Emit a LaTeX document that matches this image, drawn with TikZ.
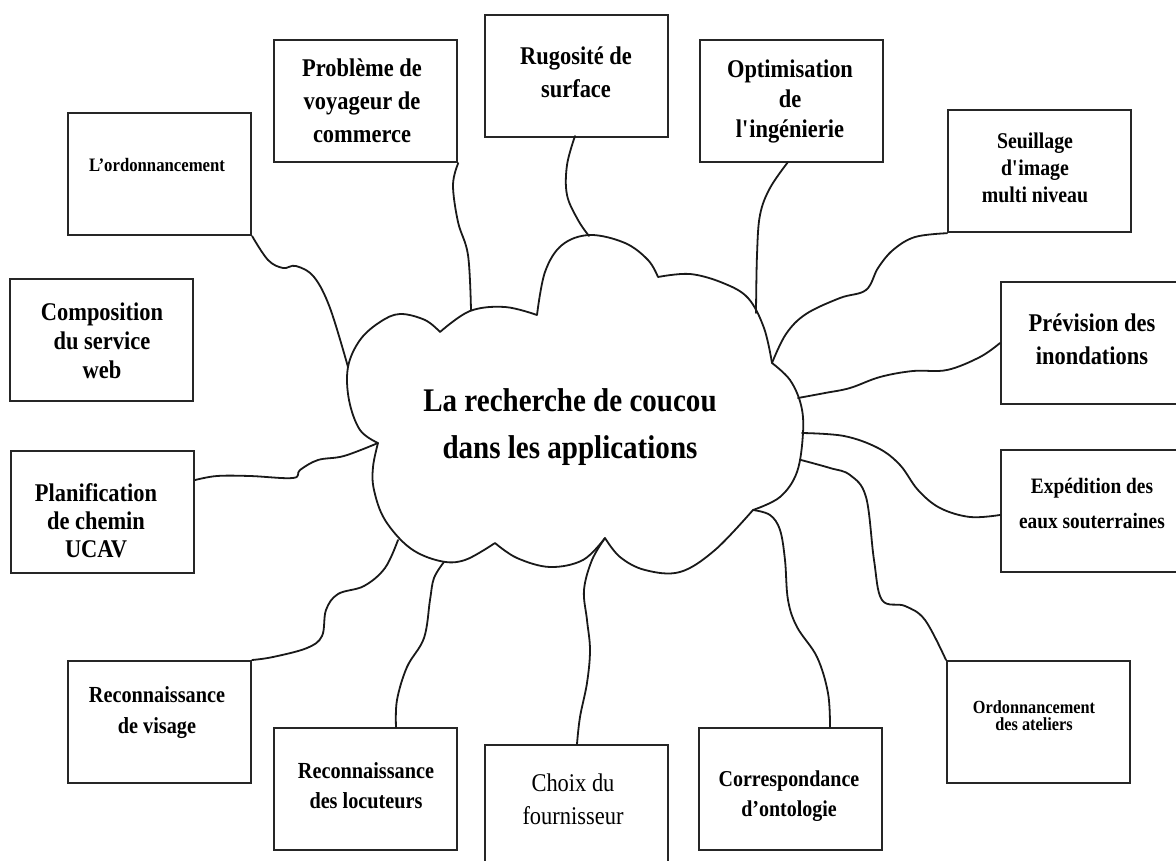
\documentclass[tikz,border=0pt]{standalone}
\usepackage{fontspec}
\setmainfont{Liberation Serif}
% slightly condensed serif used for all labels
\newfontfamily\boxfont[FakeStretch=0.88]{Liberation Serif}
\newcommand{\sq}{\textquotesingle}
\begin{document}
\begin{tikzpicture}[x=1pt,y=-1pt,
  box/.style={draw=black!85, line width=2.2pt, minimum width=183pt, minimum height=122pt,
              anchor=north west, inner sep=0pt},
  lbl/.style={align=center, inner sep=0pt},
  wire/.style={line width=1.8pt, line cap=round, line join=round, black!90},
  cloudline/.style={line width=1.8pt, line cap=round, line join=round, black!90}]

\useasboundingbox (0,0) rectangle (1176,861);
\clip (0,0) rectangle (1176,861);
\fill[white] (0,0) rectangle (1176,861);

% ---------- boxes ----------
\node[box] (prob) at (273,39)  {};
\node[box] (rug)  at (484,14)  {};
\node[box] (opt)  at (699,39)  {};
\node[box] (ordo) at (67,112)  {};
\node[box] (seu)  at (947,109) {};
\node[box] (comp) at (9,278)   {};
\node[box] (prev) at (1000,281){};
\node[box] (plan) at (10,450)  {};
\node[box] (exp)  at (1000,449){};
\node[box] (vis)  at (67,660)  {};
\node[box] (loc)  at (273,727) {};
\node[box] (cho)  at (484,744) {};
\node[box] (corr) at (698,727) {};
\node[box] (atl)  at (946,660) {};

% ---------- box labels ----------
\node[lbl, font=\boxfont\bfseries\fontsize{25.5}{33}\selectfont] (prob-t) at (362,101) {Problème de\\voyageur de\\commerce};
\node[lbl, font=\boxfont\bfseries\fontsize{25.5}{33}\selectfont] (rug-t)  at (576,72)  {Rugosité de\\surface};
\node[lbl, font=\boxfont\bfseries\fontsize{25.5}{30}\selectfont] (opt-t)  at (790,101) {Optimisation\\de\\l\sq ingénierie};
\node[lbl, font=\boxfont\bfseries\fontsize{19}{18}\selectfont]   (ordo-t) at (157,165) {L’ordonnancement};
\node[lbl, font=\boxfont\bfseries\fontsize{22.5}{27}\selectfont] (seu-t)  at (1035,168) {Seuillage\\d\sq image\\multi niveau};
\node[lbl, font=\boxfont\bfseries\fontsize{25.5}{29}\selectfont] (comp-t) at (102,341) {Composition\\du service\\web};
\node[lbl, font=\boxfont\bfseries\fontsize{25.5}{33}\selectfont] (prev-t) at (1092,339) {Prévision des\\inondations};
\node[lbl, font=\boxfont\bfseries\fontsize{25.5}{28}\selectfont] (plan-t) at (96,521)  {Planification\\de chemin\\UCAV};
\node[lbl, font=\boxfont\bfseries\fontsize{22}{35}\selectfont]   (exp-t)  at (1092,503) {Expédition des\\eaux souterraines};
\node[lbl, font=\boxfont\bfseries\fontsize{23}{31}\selectfont]   (vis-t)  at (157,713) {Reconnaissance\\de visage};
\node[lbl, font=\boxfont\bfseries\fontsize{23}{30}\selectfont]   (loc-t)  at (366,786) {Reconnaissance\\des locuteurs};
\node[lbl, font=\boxfont\fontsize{25.5}{33}\selectfont]          (cho-t)  at (573,799) {Choix du\\fournisseur};
\node[lbl, font=\boxfont\bfseries\fontsize{22.7}{30}\selectfont] (corr-t) at (789,796) {Correspondance\\d’ontologie};
\node[lbl, font=\boxfont\bfseries\fontsize{18.5}{17}\selectfont] (atl-t)  at (1034,716) {Ordonnancement\\des ateliers};

% ---------- central cloud ----------
\coordinate (cA) at (440,332);
\coordinate (cB) at (537,315);
\coordinate (cC) at (658,277);
\coordinate (cD) at (772,363);
\coordinate (cE) at (753,510);
\coordinate (cF) at (605,538);
\coordinate (cG) at (495,543);
\coordinate (cH) at (378,443);

\draw[cloudline]
  plot[smooth, tension=0.6] coordinates {(cA) (470,311) (505,307) (cB)}
  plot[smooth, tension=0.6] coordinates {(cB) (545,272) (562,245) (590,235) (625,243) (648,260) (cC)}
  plot[smooth, tension=0.6] coordinates {(cC) (690,274) (723,283) (748,298) (764,328) (cD)}
  plot[smooth, tension=0.6] coordinates {(cD) (790,380) (801,405) (803,433) (797,472) (780,497) (cE)}
  plot[smooth, tension=0.6] coordinates {(cE) (715,550) (680,572) (645,570) (620,557) (cF)}
  plot[smooth, tension=0.6] coordinates {(cF) (583,560) (550,567) (517,558) (cG)}
  plot[smooth, tension=0.6] coordinates {(cG) (465,560) (440,561) (410,548) (385,520) (374,490) (373,467) (cH)}
  plot[smooth, tension=0.6] coordinates {(cH) (360,430) (349,400) (348,367) (360,340) (380,322) (400,314) (425,320) (cA)};

\node[lbl, font=\boxfont\bfseries\fontsize{33}{47}\selectfont] (title) at (570,427) {La recherche de coucou\\dans les applications};

% attachment points on the cloud outline
\coordinate (k-ordo) at (348,367);
\coordinate (k-prob) at (471,310);
\coordinate (k-rug)  at (589,236);
\coordinate (k-opt)  at (756,313);
\coordinate (k-seu)  at (cD);
\coordinate (k-prev) at (798,398);
\coordinate (k-exp)  at (802,433);
\coordinate (k-atl)  at (801,460);
\coordinate (k-corr) at (cE);
\coordinate (k-cho)  at (cF);
\coordinate (k-loc)  at (444,562);
\coordinate (k-vis)  at (398,540);
\coordinate (k-plan) at (cH);

% ---------- connectors ----------
\draw[wire] plot[smooth, tension=0.6] coordinates {(ordo.south east) (268,260) (283,268) (296,266) (314,277) (330,308) (k-ordo)};
\draw[wire] plot[smooth, tension=0.6] coordinates {(prob.south east) (453,185) (458,222) (468,255) (k-prob)};
\draw[wire] plot[smooth, tension=0.6] coordinates {(575,136) (567,165) (567,195) (578,220) (k-rug)};
\draw[wire] plot[smooth, tension=0.6] coordinates {(788,162) (770,188) (760,215) (757,255) (k-opt)};
\draw[wire] plot[smooth, tension=0.6] coordinates {(seu.south west) (915,237) (893,250) (878,268) (866,290) (840,298) (806,314) (786,334) (k-seu)};
\draw[wire] plot[smooth, tension=0.6] coordinates {(1000,343) (980,357) (947,370) (913,371) (880,377) (850,388) (825,393) (k-prev)};
\draw[wire] plot[smooth, tension=0.6] coordinates {(k-exp) (844,436) (878,448) (900,465) (918,490) (940,508) (970,517) (1000,515)};
\draw[wire] plot[smooth, tension=0.6] coordinates {(k-atl) (830,468) (850,475) (866,497) (874,560) (882,600) (905,606) (925,620) (atl.north west)};
\draw[wire] plot[smooth, tension=0.6] coordinates {(k-corr) (770,515) (780,530) (785,560) (788,600) (797,627) (817,657) (828,693) (830,727)};
\draw[wire] plot[smooth, tension=0.6] coordinates {(k-cho) (592,560) (584,590) (587,620) (590,650) (587,683) (580,717) (577,744)};
\draw[wire] plot[smooth, tension=0.6] coordinates {(k-loc) (434,578) (430,600) (424,638) (407,667) (397,700) (396,727)};
\draw[wire] plot[smooth, tension=0.6] coordinates {(k-vis) (385,568) (364,586) (338,594) (326,610) (322,636) (307,648) (273,657) (vis.north east)};
\draw[wire] plot[smooth, tension=0.6] coordinates {(plan.east |- 0,480) (217,476) (250,476) (293,478) (300,470) (318,460) (344,456) (k-plan)};

\end{tikzpicture}
\end{document}
